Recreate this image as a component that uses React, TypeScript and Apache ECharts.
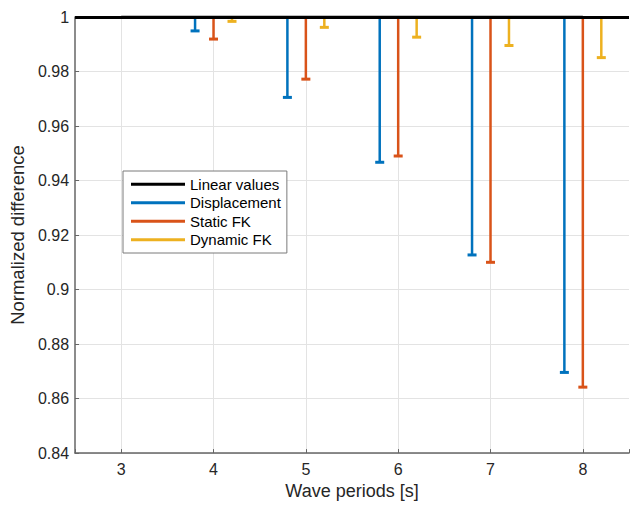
import React, { useEffect, useRef } from "react";
import * as echarts from "echarts";

const PERIODS = [3, 4, 5, 6, 7, 8];
const LINEAR = [1, 1, 1, 1, 1, 1];
const DISPLACEMENT = [1, 0.9949, 0.9705, 0.9467, 0.9127, 0.8696];
const STATIC_FK = [1, 0.9919, 0.9772, 0.949, 0.91, 0.8642];
const DYNAMIC_FK = [1, 0.9984, 0.9962, 0.9926, 0.9895, 0.9851];
const Y_MIN = 0.84;
const Y_MAX = 1;
const X_MIN = 2.5;
const X_MAX = 8.5;

const FONT = "'Liberation Sans', Arial, sans-serif";

function stemSeries(name: string, values: number[], color: string, offset: number) {
  return {
    name,
    type: "custom",
    color,
    itemStyle: { color },
    data: PERIODS.map((p, i) => [p, values[i]]),
    z: 3,
    renderItem: (params: any, api: any) => {
      const x = api.value(0) + offset;
      const v = api.value(1);
      if (v >= LINEAR[0]) return { type: "group", children: [] };
      const top = api.coord([x, LINEAR[0]]);
      const bot = api.coord([x, v]);
      return {
        type: "group",
        children: [
          {
            type: "line",
            shape: { x1: top[0], y1: top[1], x2: bot[0], y2: bot[1] },
            style: { stroke: color, lineWidth: 2.5 },
          },
          {
            type: "rect",
            shape: { x: bot[0] - 4.5, y: bot[1] - 1.5, width: 9, height: 3 },
            style: { fill: color },
          },
        ],
      };
    },
  };
}

export default function App() {
  const ref = useRef<HTMLDivElement>(null);
  useEffect(() => {
    if (!ref.current) return;
    const chart = echarts.init(ref.current, undefined, { renderer: "svg" });
    chart.setOption({
      animation: false,
      backgroundColor: "#ffffff",
      textStyle: { fontFamily: FONT },
      grid: { left: 74, right: 6, top: 17, bottom: 50, containLabel: false },
      legend: {
        orient: "vertical",
        left: 123,
        top: 171,
        icon: "rect",
        itemWidth: 54,
        itemHeight: 3,
        itemGap: 2,
        padding: [5, 6, 5, 8],
        backgroundColor: "#ffffff",
        borderColor: "#7a7a7a",
        borderWidth: 1,
        borderRadius: 0,
        textStyle: { fontFamily: FONT, fontSize: 15, color: "#000", lineHeight: 16.5 },
        data: ["Linear values", "Displacement", "Static FK", "Dynamic FK"],
      },
      xAxis: {
        type: "value",
        min: X_MIN,
        max: X_MAX,
        name: "Wave periods [s]",
        nameLocation: "middle",
        nameGap: 25,
        nameTextStyle: { fontFamily: FONT, fontSize: 18, color: "#262626" },
        axisLine: { show: true, lineStyle: { color: "#666666", width: 1.5 } },
        axisTick: { show: true, inside: true, length: 4, lineStyle: { color: "#666666" } },
        axisLabel: {
          fontFamily: FONT,
          fontSize: 16,
          color: "#262626",
          margin: 8,
          formatter: (v: number) => (Number.isInteger(v) ? String(v) : ""),
        },
        splitLine: { show: false },
      },
      yAxis: {
        type: "value",
        min: Y_MIN,
        max: Y_MAX,
        interval: 0.02,
        name: "Normalized difference",
        nameLocation: "middle",
        nameGap: 38,
        nameTextStyle: { fontFamily: FONT, fontSize: 18.5, color: "#262626" },
        axisLine: { show: true, lineStyle: { color: "#666666", width: 1.5 } },
        axisTick: { show: true, inside: true, length: 4, lineStyle: { color: "#666666" } },
        axisLabel: {
          fontFamily: FONT,
          fontSize: 16,
          color: "#262626",
          margin: 6,
          formatter: (v: number) => String(Math.round(v * 100) / 100),
        },
        splitLine: { show: true, lineStyle: { color: "#e3e3e3", width: 1 } },
      },
      series: [
        {
          name: "grid",
          type: "line",
          data: [],
          z: 0,
          silent: true,
          markLine: {
            silent: true,
            symbol: "none",
            z: 0,
            label: { show: false },
            lineStyle: { color: "#e3e3e3", width: 1, type: "solid" },
            data: PERIODS.map((p) => ({ xAxis: p })),
          },
        },
        {
          name: "Linear values",
          type: "line",
          color: "#000000",
          data: PERIODS.map((p, i) => [p, LINEAR[i]]),
          symbol: "none",
          lineStyle: { color: "#000000", width: 3 },
          z: 10,
          markLine: {
            silent: true,
            symbol: "none",
            z: 10,
            label: { show: false },
            lineStyle: { color: "#000000", width: 3, type: "solid" },
            data: [{ yAxis: LINEAR[0] }],
          },
        },
        stemSeries("Displacement", DISPLACEMENT, "#0072BD", -0.2),
        stemSeries("Static FK", STATIC_FK, "#D95319", 0),
        stemSeries("Dynamic FK", DYNAMIC_FK, "#EDB120", 0.2),
      ],
    });
    return () => chart.dispose();
  }, []);
  return (
    <div
      ref={ref}
      style={{ position: "fixed", left: 0, top: 0, width: 635, height: 505 }}
    />
  );
}
